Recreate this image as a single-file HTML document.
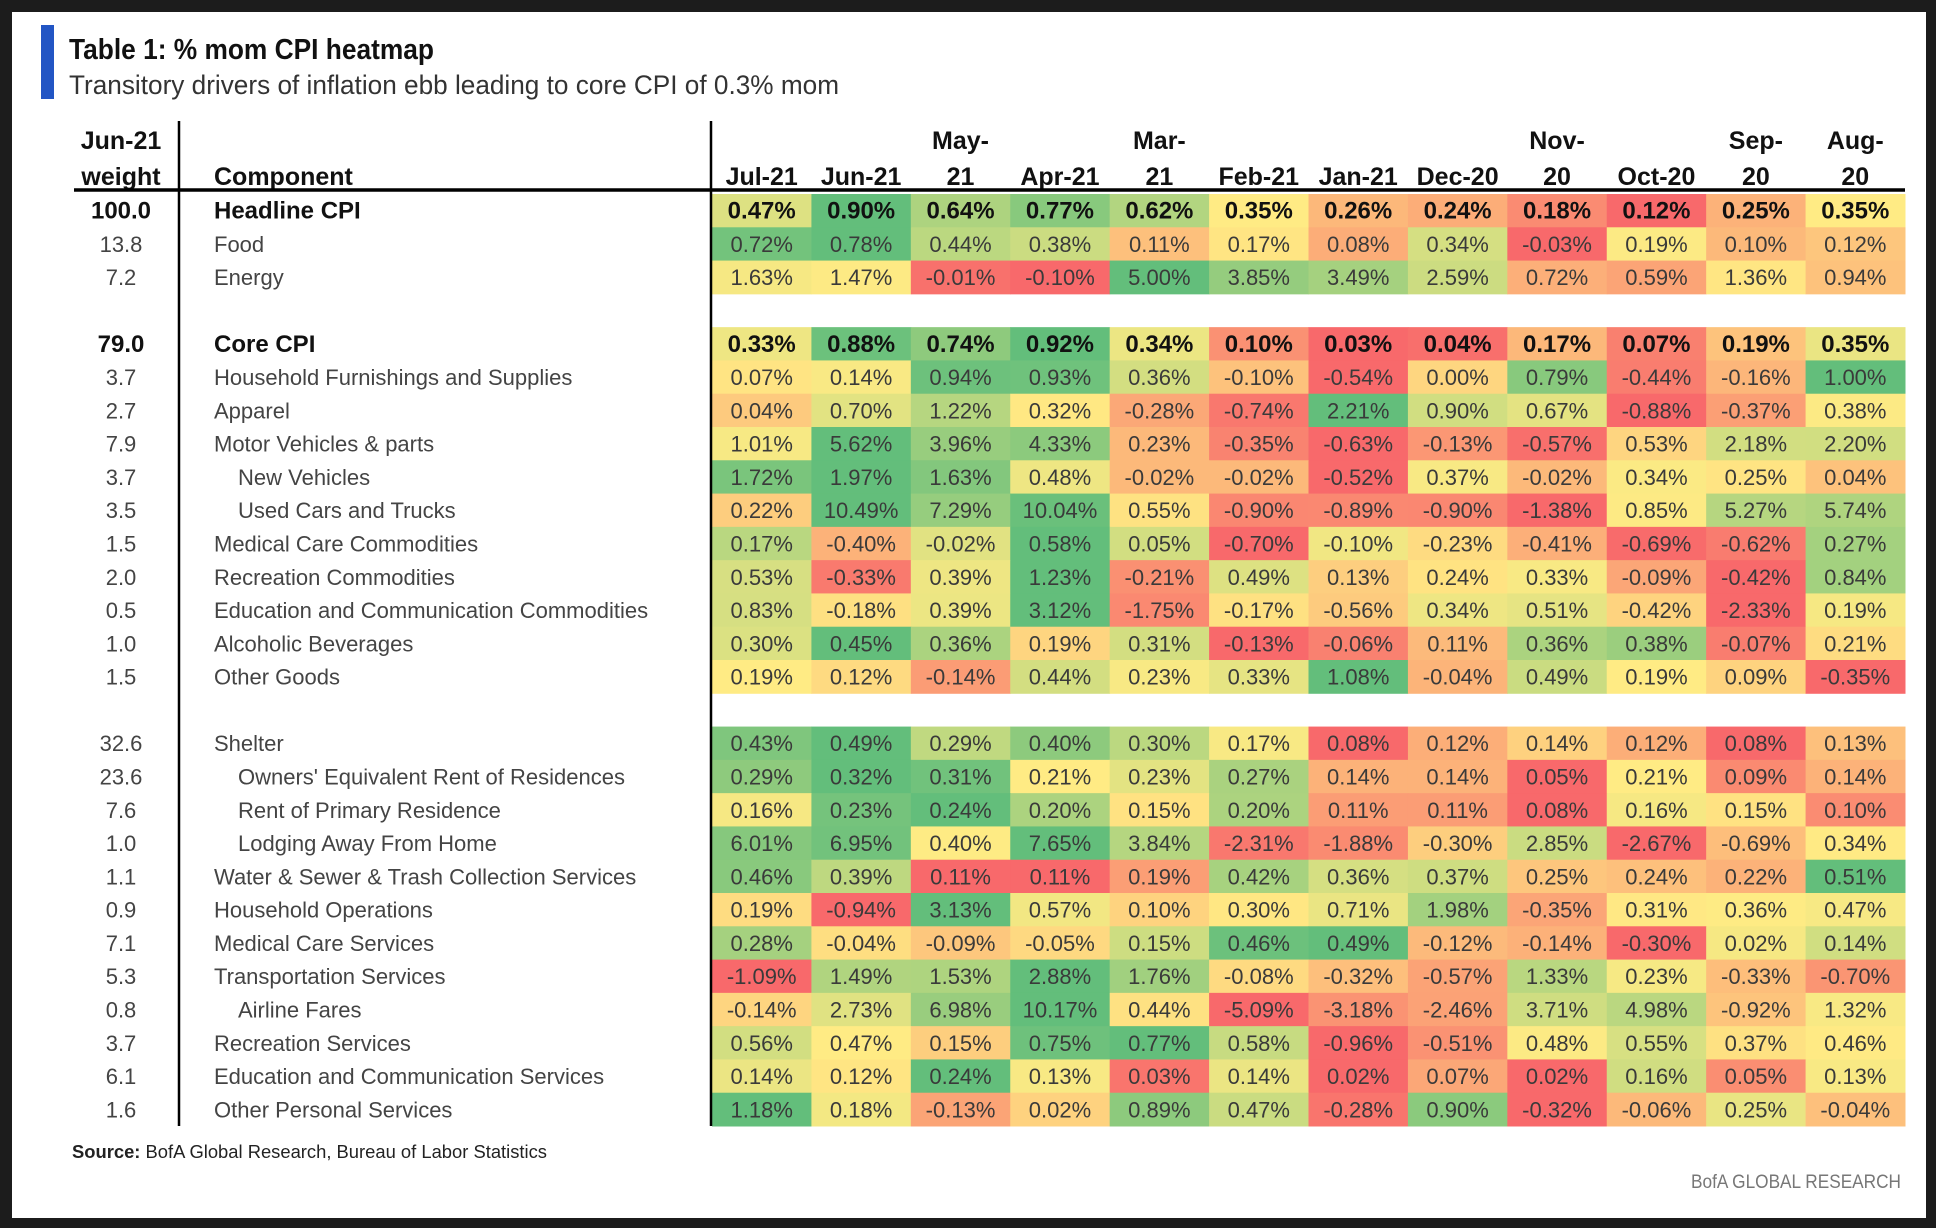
<!DOCTYPE html>
<html><head><meta charset="utf-8"><style>
html,body{margin:0;padding:0;background:#1c1c1c;width:1936px;height:1228px;overflow:hidden}
#panel{position:absolute;left:12px;top:12px;width:1914px;height:1206px;background:#fff}
svg{position:absolute;left:0;top:0}
text{font-family:"Liberation Sans",sans-serif}
</style></head><body>
<div id="panel"></div>
<svg id="chart" width="1936" height="1228">
<rect x="41" y="25" width="13" height="74" fill="#2255c4"/>
<text x="69" y="59" font-size="29" font-weight="bold" fill="#111" textLength="365" lengthAdjust="spacingAndGlyphs">Table 1: % mom CPI heatmap</text>
<text x="69" y="94" font-size="27" fill="#333" textLength="770" lengthAdjust="spacingAndGlyphs">Transitory drivers of inflation ebb leading to core CPI of 0.3% mom</text>
<text x="72" y="1158" font-size="18" fill="#222" textLength="475" lengthAdjust="spacingAndGlyphs"><tspan font-weight="bold">Source:</tspan> BofA Global Research, Bureau of Labor Statistics</text>
<text x="1901" y="1188" font-size="19" fill="#777" text-anchor="end" textLength="210" lengthAdjust="spacingAndGlyphs">BofA GLOBAL RESEARCH</text>
<g id="grid"></g>
</svg>
<script>
const months = ["Jul-21","Jun-21","May-21","Apr-21","Mar-21","Feb-21","Jan-21","Dec-20","Nov-20","Oct-20","Sep-20","Aug-20"];
const components = ["Headline CPI","Food","Energy",null,"Core CPI","Household Furnishings and Supplies","Apparel","Motor Vehicles & parts","New Vehicles","Used Cars and Trucks","Medical Care Commodities","Recreation Commodities","Education and Communication  Commodities","Alcoholic Beverages","Other Goods",null,"Shelter","Owners' Equivalent Rent of Residences","Rent of Primary Residence","Lodging Away From Home","Water & Sewer & Trash Collection Services","Household Operations","Medical Care Services","Transportation Services","Airline Fares","Recreation Services","Education and Communication  Services","Other Personal Services"];
const weights = ["100.0","13.8","7.2",null,"79.0","3.7","2.7","7.9","3.7","3.5","1.5","2.0","0.5","1.0","1.5",null,"32.6","23.6","7.6","1.0","1.1","0.9","7.1","5.3","0.8","3.7","6.1","1.6"];
const indented = ["New Vehicles","Used Cars and Trucks","Owners' Equivalent Rent of Residences","Rent of Primary Residence","Lodging Away From Home","Airline Fares"];
const boldRows = ["Headline CPI","Core CPI"];
const values = [
[0.47,0.90,0.64,0.77,0.62,0.35,0.26,0.24,0.18,0.12,0.25,0.35],
[0.72,0.78,0.44,0.38,0.11,0.17,0.08,0.34,-0.03,0.19,0.10,0.12],
[1.63,1.47,-0.01,-0.10,5.00,3.85,3.49,2.59,0.72,0.59,1.36,0.94],
null,
[0.33,0.88,0.74,0.92,0.34,0.10,0.03,0.04,0.17,0.07,0.19,0.35],
[0.07,0.14,0.94,0.93,0.36,-0.10,-0.54,0.00,0.79,-0.44,-0.16,1.00],
[0.04,0.70,1.22,0.32,-0.28,-0.74,2.21,0.90,0.67,-0.88,-0.37,0.38],
[1.01,5.62,3.96,4.33,0.23,-0.35,-0.63,-0.13,-0.57,0.53,2.18,2.20],
[1.72,1.97,1.63,0.48,-0.02,-0.02,-0.52,0.37,-0.02,0.34,0.25,0.04],
[0.22,10.49,7.29,10.04,0.55,-0.90,-0.89,-0.90,-1.38,0.85,5.27,5.74],
[0.17,-0.40,-0.02,0.58,0.05,-0.70,-0.10,-0.23,-0.41,-0.69,-0.62,0.27],
[0.53,-0.33,0.39,1.23,-0.21,0.49,0.13,0.24,0.33,-0.09,-0.42,0.84],
[0.83,-0.18,0.39,3.12,-1.75,-0.17,-0.56,0.34,0.51,-0.42,-2.33,0.19],
[0.30,0.45,0.36,0.19,0.31,-0.13,-0.06,0.11,0.36,0.38,-0.07,0.21],
[0.19,0.12,-0.14,0.44,0.23,0.33,1.08,-0.04,0.49,0.19,0.09,-0.35],
null,
[0.43,0.49,0.29,0.40,0.30,0.17,0.08,0.12,0.14,0.12,0.08,0.13],
[0.29,0.32,0.31,0.21,0.23,0.27,0.14,0.14,0.05,0.21,0.09,0.14],
[0.16,0.23,0.24,0.20,0.15,0.20,0.11,0.11,0.08,0.16,0.15,0.10],
[6.01,6.95,0.40,7.65,3.84,-2.31,-1.88,-0.30,2.85,-2.67,-0.69,0.34],
[0.46,0.39,0.11,0.11,0.19,0.42,0.36,0.37,0.25,0.24,0.22,0.51],
[0.19,-0.94,3.13,0.57,0.10,0.30,0.71,1.98,-0.35,0.31,0.36,0.47],
[0.28,-0.04,-0.09,-0.05,0.15,0.46,0.49,-0.12,-0.14,-0.30,0.02,0.14],
[-1.09,1.49,1.53,2.88,1.76,-0.08,-0.32,-0.57,1.33,0.23,-0.33,-0.70],
[-0.14,2.73,6.98,10.17,0.44,-5.09,-3.18,-2.46,3.71,4.98,-0.92,1.32],
[0.56,0.47,0.15,0.75,0.77,0.58,-0.96,-0.51,0.48,0.55,0.37,0.46],
[0.14,0.12,0.24,0.13,0.03,0.14,0.02,0.07,0.02,0.16,0.05,0.13],
[1.18,0.18,-0.13,0.02,0.89,0.47,-0.28,0.90,-0.32,-0.06,0.25,-0.04]
];

const NS="http://www.w3.org/2000/svg";
const g=document.getElementById('grid');
const X0=712, X1=1905, Y0=194, Y1=1126;
const colW=(X1-X0)/months.length;
const rowH=(Y1-Y0)/components.length;
const xCol=i=>X0+i*colW;
const yRow=r=>Y0+r*rowH;
function mk(tag,attrs,txt){const e=document.createElementNS(NS,tag);for(const k in attrs)e.setAttribute(k,attrs[k]);if(txt!=null)e.textContent=txt;g.appendChild(e);return e;}
const RED=[248,105,107],YEL=[255,235,132],GRN=[99,190,123];
function lerp(a,b,t){return a.map((v,i)=>Math.round(v+(b[i]-v)*t));}
function pct50(arr){const s=[...arr].sort((a,b)=>a-b);const p=(s.length-1)*0.5;const lo=Math.floor(p),hi=Math.ceil(p);return s[lo]+(s[hi]-s[lo])*(p-lo);}
function colorFor(v,row){const mn=Math.min(...row),mx=Math.max(...row),md=pct50(row);let c;
 if(v<=md){c=md===mn?YEL:lerp(RED,YEL,(v-mn)/(md-mn));}else{c=mx===md?YEL:lerp(YEL,GRN,(v-md)/(mx-md));}
 return `rgb(${c[0]},${c[1]},${c[2]})`;}

// header
let e;
e=mk('text',{x:121,y:149,'font-size':25,'font-weight':'bold','text-anchor':'middle',fill:'#111'},'Jun-21');


e=mk('text',{x:121,y:185,'font-size':25,'font-weight':'bold','text-anchor':'middle',fill:'#111'},'weight');


e=mk('text',{x:214,y:185,'font-size':25,'font-weight':'bold',fill:'#111'},'Component');


months.forEach((m,i)=>{
  const cx=xCol(i)+colW/2;
  const parts=m.split('-');
  const twoLine=["May-21","Mar-21","Nov-20","Sep-20","Aug-20"].includes(m);
  if(twoLine){
    e=mk('text',{x:cx,y:149,'font-size':25,'font-weight':'bold','text-anchor':'middle',fill:'#111'},parts[0]+'-');
    
    
    e=mk('text',{x:cx,y:185,'font-size':25,'font-weight':'bold','text-anchor':'middle',fill:'#111'},parts[1]);
    
    
  } else {
    e=mk('text',{x:cx,y:185,'font-size':25,'font-weight':'bold','text-anchor':'middle',fill:'#111'},m);
    
    
  }
});

// rows
components.forEach((c,r)=>{
  if(c==null) return;
  const y=yRow(r), base=y+rowH/2+8;
  const bold=boldRows.includes(c);
  const row=values[r];
  row.forEach((v,i)=>{
    e=mk('rect',{x:xCol(i),y:y,width:colW+0.5,height:rowH+0.5,fill:colorFor(v,row)});
    
    
    e=mk('text',{x:xCol(i)+colW/2,y:base,'font-size':bold?24:22,'font-weight':bold?'bold':'normal','text-anchor':'middle',fill:bold?'#111':'#3a3a3a'},v.toFixed(2)+'%');
    
    
  });
  e=mk('text',{x:121,y:base,'font-size':bold?24:22,'font-weight':bold?'bold':'normal','text-anchor':'middle',fill:bold?'#111':'#444'},weights[r]);
  
  
  e=mk('text',{x:indented.includes(c)?238:214,y:base,'font-size':bold?24:22,'font-weight':bold?'bold':'normal',fill:bold?'#111':'#444'},c);
  
  
});

// rules
e=mk('line',{x1:74,y1:190,x2:1905,y2:190,stroke:'#000','stroke-width':3.5});


e=mk('line',{x1:179,y1:121,x2:179,y2:1126,stroke:'#000','stroke-width':2.5});


e=mk('line',{x1:711,y1:121,x2:711,y2:1126,stroke:'#000','stroke-width':2.5});


</script>
</body></html>
